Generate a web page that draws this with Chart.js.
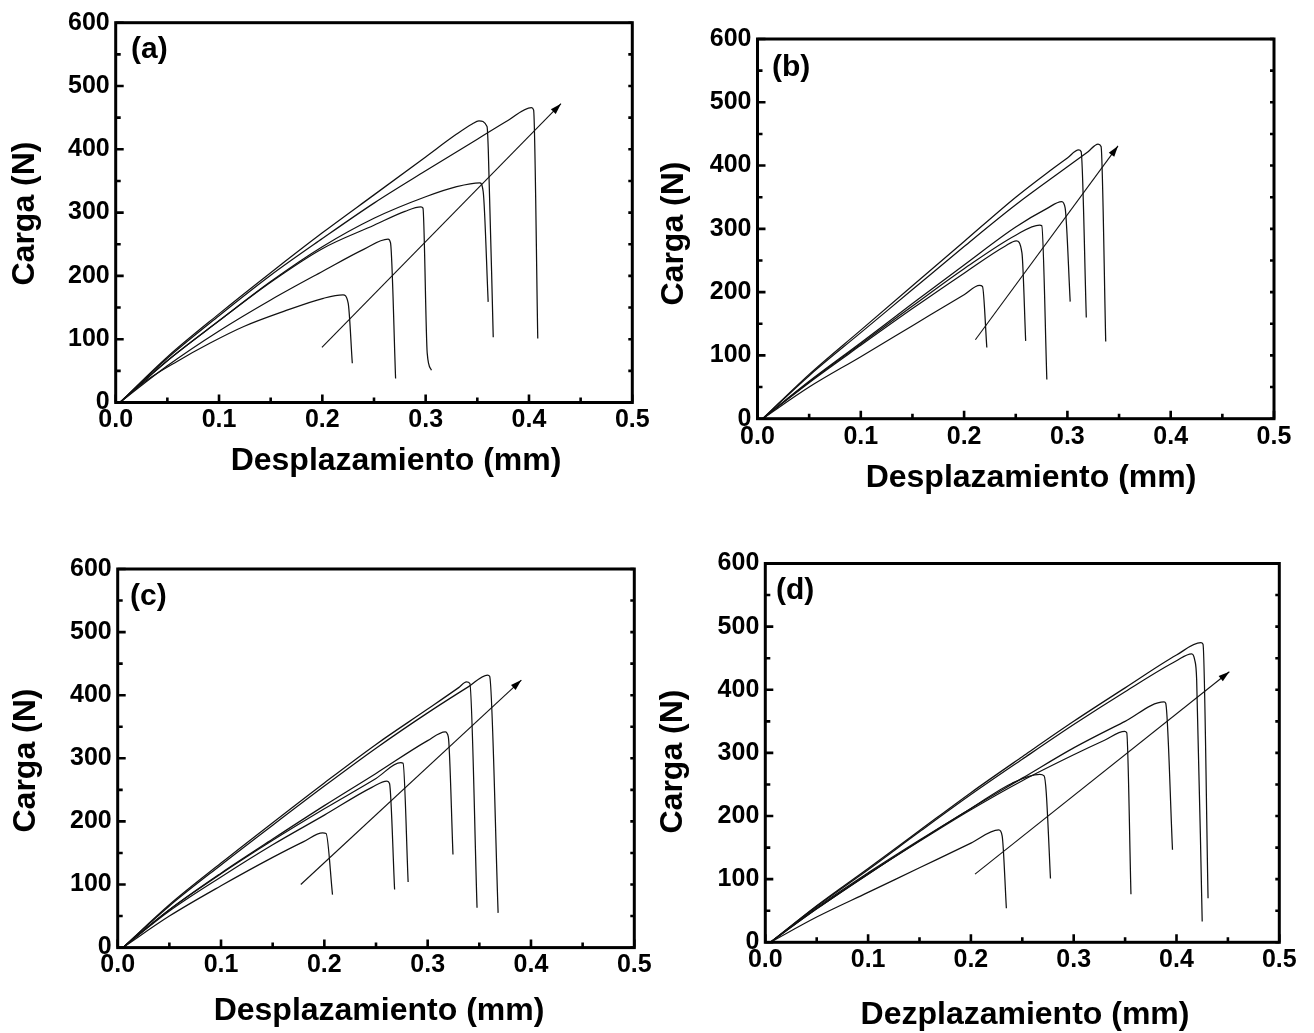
<!DOCTYPE html>
<html>
<head>
<meta charset="utf-8">
<title>Carga vs Desplazamiento</title>
<script src="https://cdn.jsdelivr.net/npm/chart.js@4.4.1/dist/chart.umd.min.js"></script>
<style>
  html, body { margin: 0; padding: 0; background: #ffffff; }
  #wrap { position: relative; width: 1314px; height: 1033px; overflow: hidden; background: #ffffff; }
  #wrap canvas { position: absolute; left: 0; top: 0; }
</style>
</head>
<body>
<div id="wrap">
  <canvas id="panelA" width="1314" height="1033"></canvas>
  <canvas id="panelB" width="1314" height="1033"></canvas>
  <canvas id="panelC" width="1314" height="1033"></canvas>
  <canvas id="panelD" width="1314" height="1033"></canvas>
</div>
<script>
// ---- axis ticks ----
const xTickValues = [0, 0.1, 0.2, 0.3, 0.4, 0.5];
const xMinorTicks = [0.05, 0.15, 0.25, 0.35, 0.45];
const yTickValues = [0, 100, 200, 300, 400, 500, 600];
const yMinorTicks = [50, 150, 250, 350, 450, 550];

// ---- load–displacement curves, [desplazamiento (mm), carga (N)] ----
// (a)
const a1 = [[0.004,0],[0.03,35],[0.059,64.5],[0.091,93.5],[0.124,120],[0.162,143.5],[0.201,164.6],[0.220,170],[0.225,157],[0.229,62]];
const a2 = [[0.004,0],[0.05,58],[0.1,113],[0.15,162],[0.2,207],[0.24,242],[0.2636,258],[0.266,252],[0.2709,38]];
const a3 = [[0.004,0],[0.05,66],[0.1,129],[0.15,190],[0.2,243],[0.25,280],[0.28,302],[0.2954,309],[0.2974,307],[0.3015,78],[0.3056,51]];
const a4 = [[0.004,0],[0.05,66],[0.1,129],[0.15,191],[0.2,246],[0.25,291],[0.3,325],[0.33,341],[0.3524,347],[0.3557,333],[0.3605,159]];
const a5 = [[0.004,0],[0.05,72],[0.1,140],[0.15,205],[0.2,268],[0.25,328],[0.3,388],[0.33,424],[0.345,440],[0.3516,445],[0.3594,436],[0.3606,400],[0.3654,103]];
const a6 = [[0.004,0],[0.05,70],[0.1,137],[0.15,201],[0.2,259],[0.25,315],[0.3,366],[0.35,416],[0.38,446],[0.4024,466],[0.4045,462],[0.4085,101]];
const arrowA = [[0.1996,87],[0.431,472]];
// (b)
const b1 = [[0.005,0],[0.05,50],[0.1,98],[0.15,147],[0.2,196],[0.215,210.5],[0.2178,209],[0.222,112.6]];
const b2 = [[0.005,0],[0.05,57],[0.1,116],[0.15,174],[0.2,230],[0.24,273],[0.2506,281],[0.256,262],[0.2596,123]];
const b3 = [[0.005,0],[0.05,58],[0.1,118],[0.15,178],[0.2,237],[0.25,290],[0.2732,306],[0.2752,305],[0.2801,62]];
const b4 = [[0.005,0],[0.05,59],[0.1,120],[0.15,182],[0.2,243],[0.25,303],[0.28,332],[0.2945,343],[0.2978,333],[0.3027,185]];
const b5 = [[0.005,0],[0.05,70],[0.1,140],[0.15,210],[0.2,280],[0.25,350],[0.28,388],[0.3,412],[0.3109,424.7],[0.3133,422],[0.3183,160]];
const b6 = [[0.005,0],[0.05,68],[0.1,136],[0.15,204],[0.2,272],[0.25,338],[0.3,398],[0.32,422],[0.3297,434],[0.3326,430],[0.3371,122]];
const arrowB = [[0.2109,124.7],[0.349,431]];
// (c)
const c1 = [[0.005,0],[0.05,50],[0.1,98],[0.15,143],[0.18,168],[0.1984,181.8],[0.2017,180.8],[0.2079,84]];
const c2 = [[0.005,0],[0.05,58],[0.1,112],[0.15,163],[0.2,210],[0.246,254],[0.2606,264],[0.2631,260],[0.268,92]];
const c3 = [[0.005,0],[0.05,60],[0.1,117],[0.15,170],[0.2,220],[0.25,268],[0.274,293],[0.2762,292],[0.2811,104]];
const c4 = [[0.005,0],[0.05,60],[0.1,118],[0.15,172],[0.2,225],[0.25,276],[0.3,328],[0.317,342],[0.32,334],[0.3245,147.5]];
const c5 = [[0.005,0],[0.05,68],[0.1,134],[0.15,198],[0.2,261],[0.25,322],[0.3,378],[0.33,412],[0.3376,421],[0.3408,418.7],[0.3478,63]];
const c6 = [[0.005,0],[0.05,66],[0.1,131],[0.15,194],[0.2,256],[0.25,316],[0.3,372],[0.34,414],[0.358,432],[0.36,430],[0.3682,55]];
const arrowC = [[0.1772,100],[0.3907,424]];
// (d)
const d1 = [[0.005,0],[0.05,40],[0.1,79],[0.15,118],[0.2,157],[0.2271,178],[0.2304,168.7],[0.2345,54]];
const d2 = [[0.005,0],[0.05,55],[0.1,110],[0.15,162],[0.2,212],[0.24,252],[0.267,266],[0.2712,263.6],[0.2733,237],[0.2774,101]];
const d3 = [[0.005,0],[0.05,53],[0.1,108],[0.15,160],[0.2,210],[0.25,256],[0.3,297],[0.33,320],[0.3496,334],[0.3516,332],[0.3557,76]];
const d4 = [[0.005,0],[0.05,53],[0.1,108],[0.15,161],[0.2,212],[0.25,260],[0.3,308],[0.35,350],[0.3879,380.7],[0.3895,378.6],[0.3961,146.6]];
const d5 = [[0.005,0],[0.05,57],[0.1,115],[0.15,175],[0.2,234],[0.25,290],[0.3,345],[0.35,397],[0.4,446],[0.4147,457],[0.4176,448],[0.4196,416.5],[0.425,33]];
const d6 = [[0.005,0],[0.05,58],[0.1,117],[0.15,177],[0.2,237],[0.25,294],[0.3,350],[0.35,403],[0.4,455],[0.4237,474.5],[0.4258,471.9],[0.4307,69.6]];
const arrowD = [[0.204,108],[0.4514,428.6]];

// ---- texts ----
const yTitle = 'Carga (N)';
const xTitleDes = 'Desplazamiento (mm)';
const xTitleDez = 'Dezplazamiento (mm)';

// ---- page layout of the four panels (pixels) ----
const PAGE_W = 1314, PAGE_H = 1033;
const Y_AXIS_W = 60, X_AXIS_H = 40;
const FONT = "'Liberation Sans', Arial, Helvetica, sans-serif";

const panels = [
  { id: 'panelA', tag: '(a)', xTitle: xTitleDes, curves: [a1, a2, a3, a4, a5, a6], arrow: arrowA,
    area: { l: 115.7, t: 22.7, r: 632.3, b: 402.5 },
    tagPos: { x: 131, y: 58 }, xTitlePos: { x: 396, y: 461 }, yTitlePos: { x: 25, y: 213.5 } },
  { id: 'panelB', tag: '(b)', xTitle: xTitleDes, curves: [b1, b2, b3, b4, b5, b6], arrow: arrowB,
    area: { l: 757.5, t: 39, r: 1274, b: 418.7 },
    tagPos: { x: 772, y: 76 }, xTitlePos: { x: 1031, y: 478 }, yTitlePos: { x: 674, y: 233.5 } },
  { id: 'panelC', tag: '(c)', xTitle: xTitleDes, curves: [c1, c2, c3, c4, c5, c6], arrow: arrowC,
    area: { l: 117.7, t: 569, r: 634.3, b: 947.6 },
    tagPos: { x: 130, y: 605 }, xTitlePos: { x: 379, y: 1011 }, yTitlePos: { x: 26, y: 760.5 } },
  { id: 'panelD', tag: '(d)', xTitle: xTitleDez, curves: [d1, d2, d3, d4, d5, d6], arrow: arrowD,
    area: { l: 765.3, t: 563.5, r: 1279.3, b: 942.3 },
    tagPos: { x: 776, y: 599 }, xTitlePos: { x: 1025, y: 1015 }, yTitlePos: { x: 673, y: 761.5 } }
];

// Frame, inward tick marks, arrowhead and text decorations drawn with the chart's own scales
const decorPlugin = {
  id: 'decor',
  afterDraw(chart, args, opts) {
    const p = opts.panel;
    const ctx = chart.ctx;
    const xs = chart.scales.x, ys = chart.scales.y;
    const { left, right, top, bottom } = chart.chartArea;
    ctx.save();
    ctx.strokeStyle = '#000';
    ctx.fillStyle = '#000';
    ctx.lineCap = 'butt';

    // tick marks pointing into the plot
    ctx.lineWidth = 2.6;
    ctx.beginPath();
    xTickValues.forEach(v => { const px = xs.getPixelForValue(v); ctx.moveTo(px, bottom); ctx.lineTo(px, bottom - 8); });
    xMinorTicks.forEach(v => { const px = xs.getPixelForValue(v); ctx.moveTo(px, bottom); ctx.lineTo(px, bottom - 5); });
    yTickValues.forEach(v => { const py = ys.getPixelForValue(v); ctx.moveTo(left, py); ctx.lineTo(left + 8, py); });
    yMinorTicks.forEach(v => { const py = ys.getPixelForValue(v); ctx.moveTo(left, py); ctx.lineTo(left + 5, py); });
    yTickValues.concat(yMinorTicks).forEach(v => { const py = ys.getPixelForValue(v); ctx.moveTo(right, py); ctx.lineTo(right - 4, py); });
    ctx.stroke();

    // plot frame
    ctx.lineWidth = 3;
    ctx.strokeRect(left, top, right - left, bottom - top);

    // arrowhead at the end of the trend arrow
    const [s, e] = p.arrow;
    const x0 = xs.getPixelForValue(s[0]), y0 = ys.getPixelForValue(s[1]);
    const x1 = xs.getPixelForValue(e[0]), y1 = ys.getPixelForValue(e[1]);
    const ang = Math.atan2(y1 - y0, x1 - x0);
    const len = 11, half = 3.4;
    ctx.beginPath();
    ctx.moveTo(x1, y1);
    ctx.lineTo(x1 - len * Math.cos(ang) + half * Math.sin(ang), y1 - len * Math.sin(ang) - half * Math.cos(ang));
    ctx.lineTo(x1 - len * Math.cos(ang) - half * Math.sin(ang), y1 - len * Math.sin(ang) + half * Math.cos(ang));
    ctx.closePath();
    ctx.fill();

    // panel tag
    ctx.font = 'bold 30px ' + FONT;
    ctx.textAlign = 'left';
    ctx.textBaseline = 'alphabetic';
    ctx.fillText(p.tag, p.tagPos.x, p.tagPos.y);

    // axis titles
    ctx.font = 'bold 32px ' + FONT;
    ctx.textAlign = 'center';
    ctx.textBaseline = 'middle';
    ctx.fillText(p.xTitle, p.xTitlePos.x, p.xTitlePos.y);
    ctx.translate(p.yTitlePos.x, p.yTitlePos.y);
    ctx.rotate(-Math.PI / 2);
    ctx.fillText(yTitle, 0, 0);
    ctx.restore();
  }
};

function toPoints(arr) { return arr.map(([x, y]) => ({ x, y })); }

panels.forEach(p => {
  const datasets = p.curves.map(c => ({
    data: toPoints(c), borderColor: '#111', borderWidth: 1.25,
    pointRadius: 0, cubicInterpolationMode: 'monotone', fill: false
  }));
  datasets.push({ data: toPoints(p.arrow), borderColor: '#111', borderWidth: 1.1, pointRadius: 0, tension: 0, fill: false });

  new Chart(document.getElementById(p.id), {
    type: 'line',
    data: { datasets },
    options: {
      responsive: false,
      animation: false,
      devicePixelRatio: 1,
      events: [],
      parsing: false,
      layout: {
        autoPadding: false,
        padding: {
          left: p.area.l - Y_AXIS_W,
          top: p.area.t,
          right: PAGE_W - p.area.r,
          bottom: PAGE_H - p.area.b - X_AXIS_H
        }
      },
      plugins: { legend: { display: false }, tooltip: { enabled: false }, decor: { panel: p } },
      scales: {
        x: {
          type: 'linear', position: 'bottom', min: 0, max: 0.5,
          afterBuildTicks: s => { s.ticks = xTickValues.map(v => ({ value: v })); },
          afterFit: s => { s.height = X_AXIS_H; s.paddingLeft = 0; s.paddingRight = 0; },
          ticks: {
            callback: v => Number(v).toFixed(1), autoSkip: false, maxRotation: 0, minRotation: 0,
            font: { family: FONT, size: 25, weight: 'bold' }, color: '#000', padding: 3
          },
          grid: { display: false, drawTicks: false },
          border: { display: false }
        },
        y: {
          type: 'linear', position: 'left', min: 0, max: 600,
          afterBuildTicks: s => { s.ticks = yTickValues.map(v => ({ value: v })); },
          afterFit: s => { s.width = Y_AXIS_W; s.paddingTop = 0; s.paddingBottom = 0; },
          ticks: {
            callback: v => String(v), autoSkip: false,
            font: { family: FONT, size: 25, weight: 'bold' }, color: '#000', padding: 6
          },
          grid: { display: false, drawTicks: false },
          border: { display: false }
        }
      }
    },
    plugins: [decorPlugin]
  });
});
</script>
</body>
</html>
